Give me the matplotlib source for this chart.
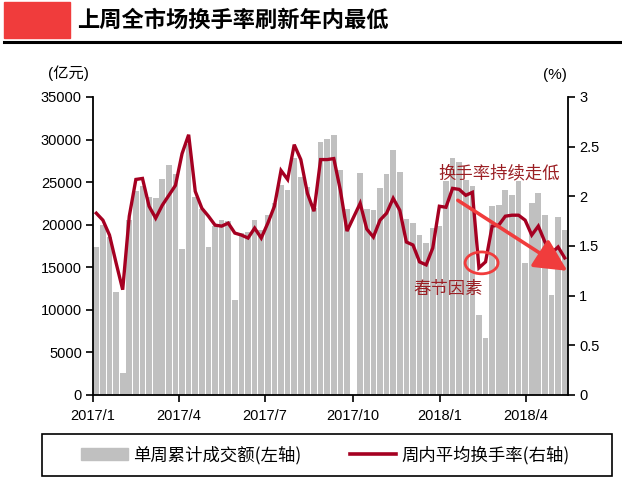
import matplotlib
matplotlib.use("Agg")
import matplotlib.pyplot as plt
from matplotlib.patches import Rectangle, Ellipse
from matplotlib.lines import Line2D
from matplotlib.patches import Patch

plt.rcParams['font.family'] = ['Liberation Sans', 'Noto Sans CJK SC', 'DejaVu Sans']

# weekly turnover (100m yuan), left axis
volume = [17400, 20000, 18500, 12100, 2600, 20500, 24000, 24500, 23300, 23100,
          25400, 27000, 26000, 17200, 29500, 23300, 21900, 17400, 19800, 20500,
          20400, 11200, 19000, 19200, 20500, 19400, 21100, 22500, 24700, 24100,
          27800, 25600, 24400, 22000, 29700, 30100, 30500, 26400, 21900, 0,
          26100, 21900, 21700, 24300, 26000, 28800, 26200, 20700, 20200, 18800,
          17800, 19600, 19800, 25100, 27800, 27400, 25200, 24500, 9400, 6700,
          22200, 22300, 24100, 23500, 25100, 15500, 22500, 23700, 21100, 11700,
          20900, 19400]
# average turnover rate (%), right axis
rate = [1.83, 1.76, 1.61, 1.33, 1.06, 1.80, 2.17, 2.18, 1.90, 1.78,
        1.91, 2.01, 2.11, 2.43, 2.62, 2.05, 1.88, 1.80, 1.71, 1.70,
        1.73, 1.63, 1.61, 1.58, 1.68, 1.58, 1.73, 1.90, 2.26, 2.17,
        2.52, 2.37, 2.03, 1.85, 2.37, 2.37, 2.38, 2.06, 1.65, 1.79,
        1.93, 1.67, 1.59, 1.76, 1.83, 1.98, 1.86, 1.54, 1.51, 1.34,
        1.31, 1.48, 1.90, 1.89, 2.08, 2.07, 2.01, 2.04, 1.28, 1.34,
        1.70, 1.71, 1.80, 1.81, 1.81, 1.76, 1.61, 1.70, 1.54, 1.43,
        1.49, 1.38]
tick_labels = ["2017/1", "2017/4", "2017/7", "2017/10", "2018/1", "2018/4"]
tick_days = [0, 90, 181, 273, 365, 455]

bar_color = "#c0c0c0"
line_color = "#a50021"
note_color = "#9b1f24"
red = "#f03c3c"

fig = plt.figure(figsize=(6.22, 4.79), dpi=100)
ax = fig.add_axes([0.1495, 0.1754, 0.7637, 0.6221])
ax2 = ax.twinx()

x = list(range(len(volume)))
ax.bar(x, volume, width=0.86, color=bar_color, zorder=2)
ax2.plot(x, rate, color=line_color, lw=2.4, solid_joinstyle='miter', zorder=3)

ax.set_xlim(-0.5, len(volume) - 0.5)
ax.set_ylim(0, 35000)
ax2.set_ylim(0, 3)
ax.set_yticks(range(0, 35001, 5000))
ax2.set_yticks([0, 0.5, 1, 1.5, 2, 2.5, 3])
ax2.set_yticklabels(["0", "0.5", "1", "1.5", "2", "2.5", "3"])
ax.set_xticks([d / 7 * 1.009 - 0.5 for d in tick_days])
ax.set_xticklabels(tick_labels)

for a in (ax, ax2):
    a.spines['top'].set_visible(False)
    for s in ('left', 'right', 'bottom'):
        a.spines[s].set_linewidth(1.3)
    a.tick_params(direction='out', length=5, width=1.2, labelsize=10.5, pad=3)
ax.spines['right'].set_visible(False)
ax2.spines['left'].set_visible(False)
ax2.spines['bottom'].set_visible(False)
ax.tick_params(axis='x', pad=5)

# annotations
ax2.annotate("", xy=(71.4, 1.25), xytext=(54.8, 1.96), annotation_clip=False,
             arrowprops=dict(arrowstyle="-|>,head_length=1.0,head_width=0.5",
                             color=red, lw=2.6, mutation_scale=20, shrinkA=0, shrinkB=0),
             zorder=5)
ax2.add_patch(Ellipse((58.4, 1.33), 5.0, 0.22, fill=False, edgecolor=red, lw=2, zorder=5))
ax2.text(61.0, 2.23, "换手率持续走低", color=note_color, fontsize=12.5,
         ha='center', va='center', family=['Noto Sans CJK SC'], zorder=6)
ax2.text(53.3, 1.07, "春节因素", color=note_color, fontsize=12.5,
         ha='center', va='center', family=['Noto Sans CJK SC'], zorder=6)

fig.text(0.077, 0.848, "(亿元)", fontsize=11, ha='left', va='center')
fig.text(0.912, 0.843, "(%)", fontsize=11, ha='right', va='center')

# header
fig.patches.append(Rectangle((0.007, 0.921), 0.106, 0.075, transform=fig.transFigure,
                             color=red, zorder=1))
fig.text(0.124, 0.958, "上周全市场换手率刷新年内最低", fontsize=16, fontweight='bold',
         family=['Noto Sans CJK SC'], ha='left', va='center')
fig.add_artist(Line2D([0.006, 1.0], [0.913, 0.913], color='black', lw=2.2,
                      transform=fig.transFigure))

# legend box
fig.patches.append(Rectangle((0.0675, 0.006), 0.916, 0.088, transform=fig.transFigure,
                             fill=False, edgecolor='black', lw=1.2))
handles = [Patch(color=bar_color), Line2D([], [], color=line_color, lw=2.6)]
fig.legend(handles, ["单周累计成交额(左轴)", "周内平均换手率(右轴)"], loc='center',
           bbox_to_anchor=(0.523, 0.05), ncol=2, frameon=False,
           handlelength=2.7, handletextpad=0.3, columnspacing=2.8,
           prop={'family': ['Noto Sans CJK SC'], 'size': 12.5})

plt.savefig("out.png", dpi=100)
